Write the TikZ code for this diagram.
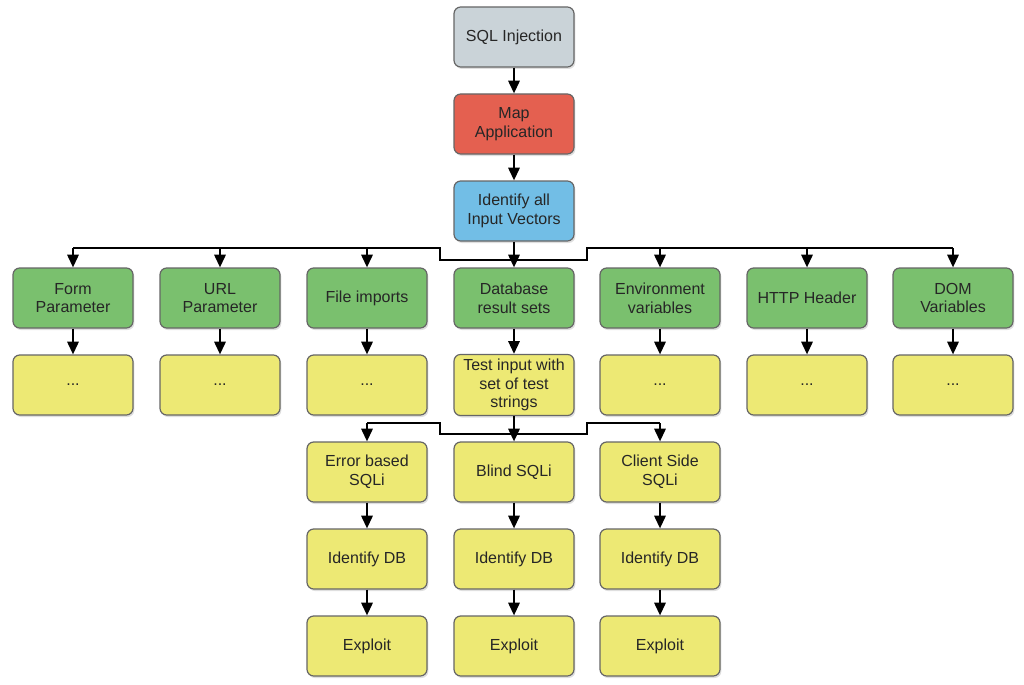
\documentclass[tikz,border=0pt]{standalone}
\usepackage{fontspec}
\setmainfont{Liberation Sans}
\usetikzlibrary{arrows.meta,shadows}
\definecolor{boxgray}{RGB}{202,211,216}
\definecolor{boxred}{RGB}{228,96,80}
\definecolor{boxblue}{RGB}{114,190,230}
\definecolor{boxgreen}{RGB}{122,192,110}
\definecolor{boxyellow}{RGB}{237,233,116}

\begin{document}
\begin{tikzpicture}[x=0.75pt,y=-0.75pt,
    box/.style={draw=black!60,line width=0.9pt,rounded corners=5pt,
      minimum width=90pt,minimum height=45pt,align=center,text=black!85,
      font=\fontsize{12}{14}\selectfont,
      drop shadow={opacity=0.25,shadow xshift=1pt,shadow yshift=-1.5pt}},
    line/.style={line width=1.5pt},
    arr/.style={line width=1.5pt,-{Triangle[length=9.5pt,width=8.5pt]}}]
      \useasboundingbox (0,0) rectangle (1024,685);
      \node[box,fill=boxgray] (inj) at (514,37) {SQL Injection};
      \node[box,fill=boxred] (map) at (514,124) {Map\\Application};
      \node[box,fill=boxblue] (vec) at (514,211) {Identify all\\Input Vectors};
      \draw[arr] (inj) -- (map);
      \draw[arr] (map) -- (vec);
      \foreach \x/\n/\t in {73/form/Form\\Parameter,220/url/URL\\Parameter,367/file/File imports,
        514/db/Database\\result sets,660/env/Environment\\variables,807/http/HTTP Header,953/dom/DOM\\Variables}
      \node[box,fill=boxgreen] (\n) at (\x,298) {\t};
      \foreach \x/\n in {73/form,220/url,367/file,660/env,807/http,953/dom}
      {
        \node[box,fill=boxyellow] (y\n) at (\x,385) {...};
        \draw[arr] (\n) -- (y\n);
      }
      \node[box,fill=boxyellow] (test) at (514,385) {Test input with\\set of test\\strings};
      \draw[arr] (db) -- (test);
      % upper bus
      \coordinate (bus) at (0,248);
      \coordinate (bL) at (440,248);
      \coordinate (bR) at (587,248);
      \draw[line] (form.north |- bus) -- (bL) -- ++(0,12) -| (bR) -- (dom.north |- bus);
      \draw[arr] (vec) -- (db);
      \foreach \n in {form,url,file,env,http,dom}
      \draw[arr] (\n.north |- bus) -- (\n.north);
      % lower part
      \foreach \x/\n/\t in {367/e/Error based\\SQLi,514/b/Blind SQLi,660/c/Client Side\\SQLi}
      {
        \node[box,fill=boxyellow] (sq\n) at (\x,472) {\t};
        \node[box,fill=boxyellow] (id\n) at (\x,559) {Identify DB};
        \node[box,fill=boxyellow] (ex\n) at (\x,646) {Exploit};
        \draw[arr] (sq\n) -- (id\n);
        \draw[arr] (id\n) -- (ex\n);
      }
      \coordinate (bus2) at (0,423);
      \coordinate (cL) at (440,423);
      \coordinate (cR) at (587,423);
      \draw[line] (sqe.north |- bus2) -- (cL) -- ++(0,11) -| (cR) -- (sqc.north |- bus2);
      \draw[arr] (test) -- (sqb);
      \draw[arr] (sqe.north |- bus2) -- (sqe.north);
      \draw[arr] (sqc.north |- bus2) -- (sqc.north);
    \end{tikzpicture}
\end{document}
